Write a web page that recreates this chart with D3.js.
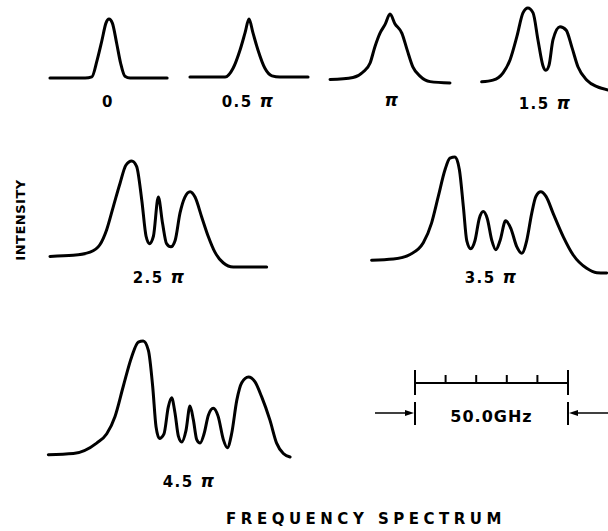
<!DOCTYPE html>
<html><head><meta charset="utf-8">
<script src="https://cdn.jsdelivr.net/npm/d3@7"></script>
<style>body{margin:0;background:#fff}svg{display:block}</style>
</head><body>
<script>
// ---- data (frequency offset in GHz, relative intensity) ----
const phaseLabels = ["0", "0.5 π", "π", "1.5 π", "2.5 π", "3.5 π", "4.5 π"];

const freq0 = [-19.3,-7.8,-5.6,-3.9,-2.3,-1.0,0,1.1,2.5,3.8,5.2,6.9,19.0];
const int0  = [0,0,0.02,0.30,0.64,0.93,1,0.93,0.59,0.25,0.03,0,0];

const freq1 = [-19.3,-7.8,-5.2,-2.9,-1.3,0,1.3,2.9,5.2,7.5,10.1,19.3];
const int1  = [0,0,0.15,0.47,0.76,1,0.76,0.47,0.15,0.02,0,0];

const freq2 = [-19.6,-12.1,-8.8,-6.5,-4.9,-3.3,-1.6,0,1.6,3.9,5.6,7.5,9.8,13.1,19.6];
const int2  = [0.05,0.08,0.16,0.29,0.53,0.72,0.85,1,0.86,0.72,0.48,0.23,0.10,0.02,0];

const freq3 = [-20.7,-17.0,-13.7,-11.4,-9.2,-7.2,-5.6,-3.9,-2.3,-0.7,0.3,1.3,2.6,4.9,6.9,8.8,10.8,13.7,17.0,20.6];
const int3  = [0.10,0.12,0.21,0.37,0.65,0.94,1,0.94,0.61,0.30,0.24,0.30,0.61,0.77,0.73,0.52,0.28,0.12,0.04,0];

const freq4 = [-35.3,-27.7,-22.2,-19.0,-16.8,-14.6,-12.4,-10.5,-8.6,-7.0,-5.3,-3.9,-2.8,-1.5,0.1,1.5,2.8,4.2,5.6,7.2,8.8,10.5,12.1,14.3,16.4,18.6,21.3,24.6,35.5];
const int4  = [0.10,0.11,0.14,0.21,0.35,0.57,0.79,0.96,1,0.95,0.63,0.29,0.22,0.29,0.66,0.41,0.22,0.19,0.25,0.51,0.66,0.71,0.66,0.47,0.29,0.14,0.04,0,0];

const freq5 = [-38.7,-31.6,-26.1,-21.8,-19.1,-16.9,-14.7,-13.1,-11.4,-10.0,-8.7,-7.6,-6.3,-4.9,-3.5,-2.2,-0.9,0.6,1.9,3.3,5.1,6.8,8.7,10.4,12.0,13.6,15.0,16.6,18.3,20.7,24.0,27.2,31.6,34.9,38.1];
const int5  = [0.11,0.12,0.16,0.26,0.43,0.66,0.89,0.99,1,0.89,0.57,0.28,0.21,0.28,0.47,0.53,0.47,0.28,0.20,0.28,0.45,0.385,0.23,0.17,0.28,0.51,0.66,0.70,0.66,0.51,0.31,0.155,0.04,0.003,0];

const freq6 = [-46.3,-38.1,-30.5,-27.2,-24.5,-21.8,-19.1,-16.9,-15.3,-13.6,-12.2,-11.1,-10.0,-8.5,-7.1,-6.0,-4.9,-3.8,-2.7,-1.3,0,1.1,2.2,3.3,4.6,6.0,7.6,9.2,10.9,12.2,13.6,15.3,16.9,19.1,21.2,23.4,26.1,28.3,30.5,32.7];
const int6  = [0.02,0.03,0.12,0.20,0.35,0.61,0.86,0.99,1,0.92,0.61,0.26,0.16,0.20,0.43,0.51,0.38,0.18,0.13,0.23,0.44,0.32,0.15,0.12,0.20,0.36,0.42,0.35,0.15,0.08,0.20,0.49,0.64,0.69,0.65,0.52,0.32,0.12,0.03,0];

const scaleTicksGHz = [0, 10, 20, 30, 40, 50];
const scaleLabel = "50.0GHz";
const yTitle = "INTENSITY";
const xTitle = "FREQUENCY SPECTRUM";

// ---- layout ----
const W = 608, H = 531;
const pxPerGHz = 153 / 50;
const panels = [
  {cx:109, base:78,  h:59,  lx:108, ly:107},
  {cx:249, base:77,  h:58,  lx:248, ly:107},
  {cx:390, base:83,  h:69,  lx:392, ly:106},
  {cx:545, base:90,  h:82,  lx:545, ly:109},
  {cx:158, base:267, h:106, lx:159, ly:283},
  {cx:490, base:273, h:116, lx:491, ly:283},
  {cx:190, base:457, h:116, lx:189, ly:487}
];
const freqs = [freq0, freq1, freq2, freq3, freq4, freq5, freq6];
const ints  = [int0, int1, int2, int3, int4, int5, int6];

const FONT = "'DejaVu Sans', Verdana, sans-serif";

const svg = d3.select("body").append("svg").attr("width", W).attr("height", H);

panels.forEach((p, i) => {
  const x = d3.scaleLinear().domain([-25, 25]).range([p.cx - 25 * pxPerGHz, p.cx + 25 * pxPerGHz]);
  const y = d3.scaleLinear().domain([0, 1]).range([p.base, p.base - p.h]);
  const pts = freqs[i].map((f, k) => [f, ints[i][k]]);
  const line = d3.line().x(d => x(d[0])).y(d => y(d[1])).curve(d3.curveMonotoneX);
  svg.append("path").attr("d", line(pts))
    .attr("fill", "none").attr("stroke", "#000").attr("stroke-width", 3)
    .attr("stroke-linejoin", "round").attr("stroke-linecap", "round");

  const lab = phaseLabels[i];
  const t = svg.append("text").attr("x", p.lx).attr("y", p.ly)
    .attr("text-anchor", "middle").attr("font-family", FONT)
    .attr("font-weight", "bold").attr("font-size", 15).attr("letter-spacing", 1.5);
  const parts = lab.split("π");
  if (lab.includes("π")) {
    if (parts[0]) t.append("tspan").text(parts[0]);
    t.append("tspan").attr("font-style", "italic").attr("font-size", 17).text("π");
  } else {
    t.text(lab);
  }
});

// ---- scale bar ----
const sb = d3.scaleLinear().domain([0, 50]).range([415, 568]);
const barY = 383;
svg.append("line").attr("x1", sb(0)).attr("x2", sb(50)).attr("y1", barY).attr("y2", barY)
  .attr("stroke", "#000").attr("stroke-width", 2);
scaleTicksGHz.forEach((v, k) => {
  const end = (k === 0 || k === scaleTicksGHz.length - 1);
  svg.append("line").attr("x1", sb(v)).attr("x2", sb(v))
    .attr("y1", end ? 370 : 375).attr("y2", end ? 395 : barY)
    .attr("stroke", "#000").attr("stroke-width", 2);
});
[0, 50].forEach(v => {
  svg.append("line").attr("x1", sb(v)).attr("x2", sb(v)).attr("y1", 402).attr("y2", 425)
    .attr("stroke", "#000").attr("stroke-width", 2);
});
const arrY = 413;
svg.append("line").attr("x1", 375).attr("x2", sb(0) - 6).attr("y1", arrY).attr("y2", arrY)
  .attr("stroke", "#000").attr("stroke-width", 1.6);
svg.append("path").attr("d", `M${sb(0)-1},${arrY} L${sb(0)-10},${arrY-3} L${sb(0)-10},${arrY+3} Z`).attr("fill", "#000");
svg.append("line").attr("x1", W).attr("x2", sb(50) + 6).attr("y1", arrY).attr("y2", arrY)
  .attr("stroke", "#000").attr("stroke-width", 1.6);
svg.append("path").attr("d", `M${sb(50)+1},${arrY} L${sb(50)+10},${arrY-3} L${sb(50)+10},${arrY+3} Z`).attr("fill", "#000");
svg.append("text").attr("x", sb(25)).attr("y", 422).attr("text-anchor", "middle")
  .attr("font-family", FONT).attr("font-weight", "bold").attr("font-size", 16)
  .attr("letter-spacing", 1).text(scaleLabel);

// ---- axis titles ----
svg.append("text").attr("transform", "translate(25,220) rotate(-90)")
  .attr("text-anchor", "middle").attr("font-family", FONT).attr("font-weight", "bold")
  .attr("font-size", 13).attr("letter-spacing", 0.5).text(yTitle);
svg.append("text").attr("x", 366).attr("y", 524).attr("text-anchor", "middle")
  .attr("font-family", FONT).attr("font-weight", "bold").attr("font-size", 15)
  .attr("letter-spacing", 4.5).text(xTitle);
</script>
</body></html>
